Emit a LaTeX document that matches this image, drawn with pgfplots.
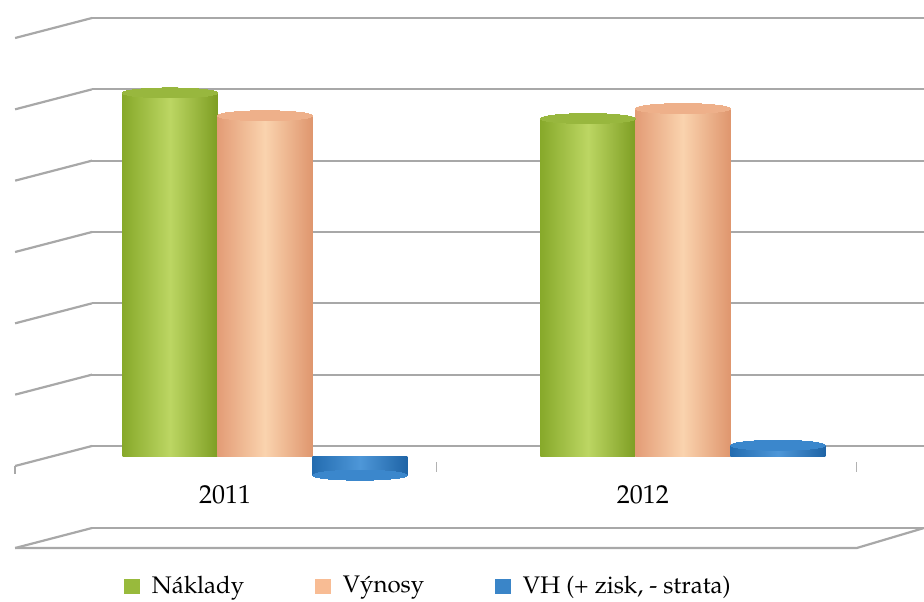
\documentclass[border=0pt]{standalone}
\usepackage[T1]{fontenc}
\usepackage{mathpazo}
\usepackage{pgfplots}
\pgfplotsset{compat=1.18}
\definecolor{gridgray}{HTML}{A8A8A8}
\definecolor{gL}{HTML}{87A92A}
\definecolor{gM}{HTML}{BCD663}
\definecolor{gR}{HTML}{7E9E23}
\definecolor{gT}{HTML}{98B73E}
\definecolor{oL}{HTML}{E39C76}
\definecolor{oM}{HTML}{FAD3AE}
\definecolor{oR}{HTML}{DF966E}
\definecolor{oT}{HTML}{EEB08A}
\definecolor{bL}{HTML}{236CB0}
\definecolor{bM}{HTML}{4E97D8}
\definecolor{bR}{HTML}{1F64A6}
\definecolor{bT}{HTML}{3B87CC}
\definecolor{legG}{HTML}{98BA3C}
\definecolor{legO}{HTML}{F8BC94}
\definecolor{legB}{HTML}{3A85C8}
\pgfplotsset{
  cyl/.style n args={4}{ybar, bar width=47.5pt, bar shift=0pt, draw=none,
    left color=#1, right color=#3, middle color=#2,
    mark=*, mark size=23.75pt,
    mark options={yscale=0.105, fill=#4, draw=#4, line width=0pt},
    forget plot},
}
\begin{document}
\begin{tikzpicture}
\useasboundingbox (0,0) rectangle (462pt,300.5pt);
\begin{axis}[
  at={(46pt,36.5pt)}, anchor=south west,
  scale only axis, width=416pt, height=255pt,
  xmin=-0.414, xmax=1.577, ymin=-1, ymax=6.15,
  axis line style={draw=none},
  ytick={-1,0.15,1.15,2.15,3.15,4.15,5.15,6.15}, yticklabels={},
  ymajorgrids, grid style={line width=1.1pt, color=gridgray},
  xtick={0,1}, xticklabels={2011,2012},
  xticklabel style={anchor=base, yshift=12.5pt, xshift=-20pt, font=\fontsize{13}{15}\selectfont},
  major tick length=0pt,
  clip=false,
  legend columns=3,
  legend cell align=left,
  legend style={draw=none, fill=none, inner sep=0pt, outer sep=0pt,
    at={(0.0385,-0.114)}, anchor=west,
    font=\fontsize{12}{14}\selectfont,
    /tikz/every odd column/.append style={column sep=4pt},
    /tikz/every even column/.append style={column sep=33.5pt}},
]
% decorative side wall and floor lines
\pgfplotsinvokeforeach{0.15,1.15,2.15,3.15,4.15,5.15,6.15}{
  \draw[gridgray, line width=1.1pt] ([yshift=-10pt]axis cs:-0.598,#1) -- (axis cs:-0.414,#1);
}
\draw[gridgray, line width=0.8pt] ([yshift=-10pt]axis cs:-0.598,0.15) -- ([yshift=-14pt]axis cs:-0.598,0.15);
\draw[gridgray, line width=1.1pt] ([yshift=-10pt]axis cs:-0.598,-1) -- (axis cs:-0.414,-1);
\draw[gridgray, line width=1.1pt] ([yshift=-10pt]axis cs:-0.598,-1) -- ([yshift=-10pt]axis cs:1.416,-1) -- (axis cs:1.577,-1);
\draw[gray!60, line width=0.7pt] (axis cs:0.411,-0.076) -- (axis cs:0.411,-0.216);
\draw[gray!60, line width=0.7pt] (axis cs:1.416,-0.076) -- (axis cs:1.416,-0.216);

% Náklady
\addplot[cyl={gL}{gM}{gR}{gT}] coordinates {(-0.2273,5.10)};
\addplot[cyl={gL}{gM}{gR}{gT}] coordinates {(0.7727,4.74)};
% Výnosy
\addplot[cyl={oL}{oM}{oR}{oT}] coordinates {(0,4.78)};
\addplot[cyl={oL}{oM}{oR}{oT}] coordinates {(1,4.88)};
% VH
\addplot[cyl={bL}{bM}{bR}{bT}] coordinates {(0.2273,-0.26)};
\addplot[cyl={bL}{bM}{bR}{bT}] coordinates {(1.2273,0.16)};

\addlegendimage{legend image code/.code={\fill[legG] (0pt,-3.5pt) rectangle (7.5pt,3.5pt);}}
\addlegendimage{legend image code/.code={\fill[legO] (0pt,-3.5pt) rectangle (7.5pt,3.5pt);}}
\addlegendimage{legend image code/.code={\fill[legB] (0pt,-3.5pt) rectangle (7.5pt,3.5pt);}}
\legend{N\'aklady, V\'ynosy, {VH (+ zisk, - strata)}}
\end{axis}
\end{tikzpicture}
\end{document}
